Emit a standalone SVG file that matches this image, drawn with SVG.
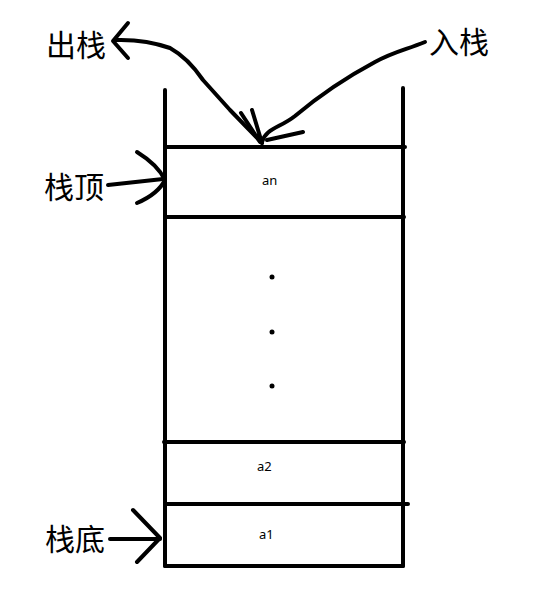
<svg xmlns="http://www.w3.org/2000/svg" width="533" height="616" viewBox="0 0 533 616">
<style>
.s{fill:none;stroke:#000;stroke-width:4;stroke-linecap:round;stroke-linejoin:round}
.c{font-family:"Noto Sans CJK SC","Noto Sans",sans-serif;font-size:30px;fill:#000}
.t{font-family:"Noto Sans","Liberation Sans",sans-serif;font-size:13px;fill:#000}
</style>
<rect width="533" height="616" fill="#fff"/>
<g id="stack">
<path class="s" d="M165 90 V566 M403 88 V566"/>
<path class="s" d="M165 147 H405 M165 217 H404 M164 442 H404 M166 504 H408 M165 566 H403"/>
</g>
<g id="an"><text class="t" x="262" y="185">an</text></g>
<g id="dots"><circle cx="272" cy="277" r="2.5"/><circle cx="272" cy="332" r="2.5"/><circle cx="272" cy="386" r="2.5"/></g>
<g id="a2"><text class="t" x="257" y="471">a2</text></g>
<g id="a1"><text class="t" x="259" y="539">a1</text></g>
<g id="out"><text class="c" x="46" y="56">出栈</text></g>
<g id="in"><text class="c" x="429" y="53">入栈</text></g>
<g id="top"><text class="c" x="44" y="198">栈顶</text></g>
<g id="bottom"><text class="c" x="45" y="550">栈底</text></g>
<g id="connectors">
<path class="s" d="M262 143 L230 110 L203 80 Q188 58 170 48 Q145 39 115 40"/>
<path class="s" d="M128 23 L113 41 L128 58"/>
<path class="s" d="M425 42 C405 50 393 52 375 62 C345 78 320 95 295 116 C280 128 266 128 262 142"/>
<path class="s" d="M252 110 L262 143 M241 113 L260 142 M303 132 L267 140"/>
<path class="s" d="M108 185 L163 179"/>
<path class="s" d="M137 152 Q158 165 165 180 Q158 194 137 203"/>
<path class="s" d="M110 539 L160 539"/>
<path class="s" d="M133 510 L160 538 L137 562"/>
</g>
</svg>
